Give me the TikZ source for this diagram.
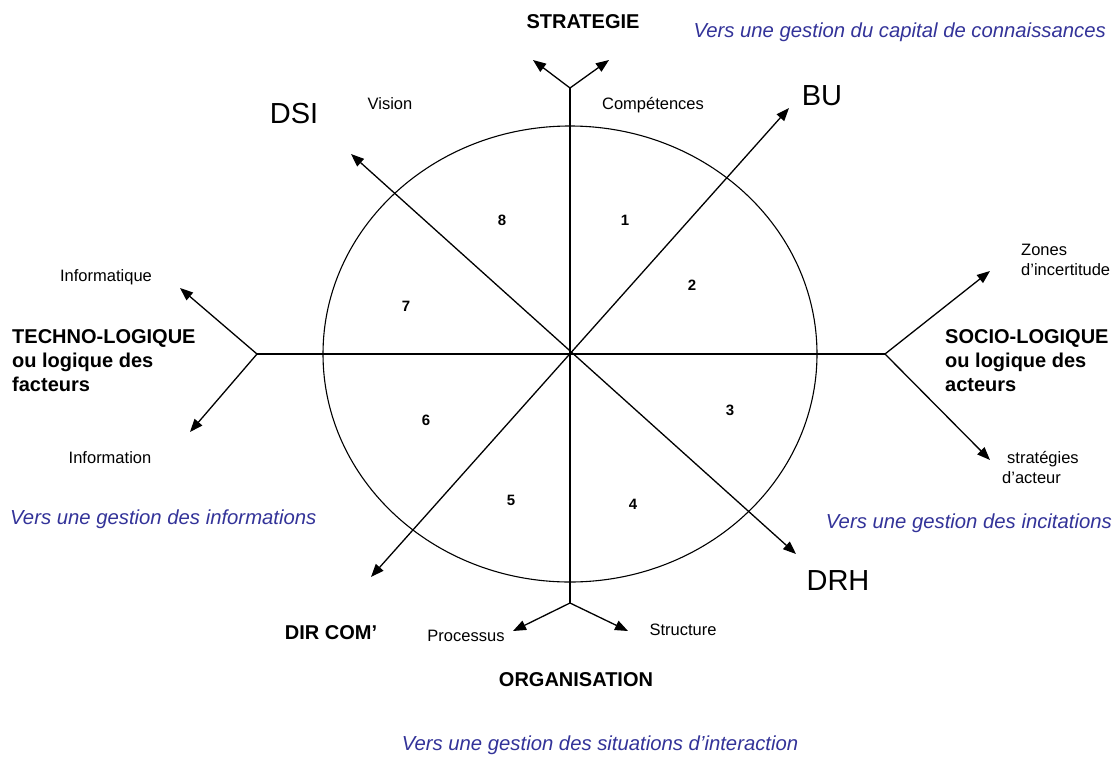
\documentclass[tikz,border=0pt]{standalone}
\usepackage{fontspec}
\setmainfont{Liberation Sans}
\usetikzlibrary{arrows.meta}
\definecolor{vblue}{RGB}{51,51,153}
\begin{document}
\begin{tikzpicture}[x=1pt,y=-1pt,
  axis/.style={line width=1.3pt,black},
  arr/.style={line width=1.3pt,-{Triangle[length=13pt,width=10pt]}},
  darr/.style={line width=1.3pt,{Triangle[length=13pt,width=10pt]}-{Triangle[length=13pt,width=10pt]}},
  small/.style={inner sep=0pt,font=\fontsize{16.5}{20}\selectfont},
  big/.style={inner sep=0pt,font=\fontsize{29}{34}\selectfont},
  bold/.style={inner sep=0pt,font=\fontsize{20}{24}\selectfont\bfseries,align=left},
  num/.style={inner sep=0pt,font=\fontsize{15}{18}\selectfont\bfseries},
  vers/.style={inner sep=0pt,text=vblue,font=\fontsize{20.3}{24}\selectfont\itshape}]
\useasboundingbox (0,0) rectangle (1119,758);
\fill[white] (0,0) rectangle (1119,758);
% geometry
\coordinate (O) at (570,354);
\coordinate (T) at (570,88);
\coordinate (B) at (570,603);
\coordinate (L) at (257,354);
\coordinate (R) at (885,354);
\coordinate (Ta) at (533,60);
\coordinate (Tb) at (609,60);
\coordinate (Ba) at (513,631);
\coordinate (Bb) at (628,631);
\coordinate (La) at (180,288);
\coordinate (Lb) at (190,432);
\coordinate (Ra) at (990,271);
\coordinate (Rb) at (990,460);
\coordinate (BUe) at (789,108);
\coordinate (DSIe) at (351,154);
\coordinate (DRHe) at (796,554);
\coordinate (DCe) at (371,577);
% circle
\draw[line width=1.1pt] (O) ellipse [x radius=247, y radius=228];
% axes
\draw[axis] (T) -- (B);
\draw[axis] (L) -- (R);
\draw[darr] (DSIe) -- (DRHe);
\draw[darr] (BUe) -- (DCe);
% forks
\draw[arr] (T) -- (Ta);
\draw[arr] (T) -- (Tb);
\draw[arr] (B) -- (Ba);
\draw[arr] (B) -- (Bb);
\draw[arr] (L) -- (La);
\draw[arr] (L) -- (Lb);
\draw[arr] (R) -- (Ra);
\draw[arr] (R) -- (Rb);
% labels
\node[bold] (strat) at (583,22) {STRATEGIE};
\node[vers,anchor=east] (v1) at (1106,32) {Vers une gestion du capital de connaissances};
\node[big] (dsi) at (294,114) {DSI};
\node[small] (vision) at (390,104) {Vision};
\node[small] (comp) at (653,105) {Compétences};
\node[big] (bu) at (822,96) {BU};
\node[small,anchor=west,align=left] (zones) at (1021,260) {Zones\\d’incertitude};
\node[bold,anchor=west] (socio) at (945,361) {SOCIO-LOGIQUE\\ou logique des\\acteurs};
\node[small,anchor=west,align=left] (strats) at (1002,467) {\hspace{5pt}stratégies\\d’acteur};
\node[small] (informatique) at (106,277) {Informatique};
\node[bold,anchor=west] (techno) at (12,361) {TECHNO-LOGIQUE\\ou logique des\\facteurs};
\node[small] (information) at (110,458) {Information};
\node[vers,anchor=west] (v2) at (10,519) {Vers une gestion des informations};
\node[vers,anchor=east] (v3) at (1112,523) {Vers une gestion des incitations};
\node[big] (drh) at (838,581) {DRH};
\node[bold] (dircom) at (331,633) {DIR COM’};
\node[small] (proc) at (466,636) {Processus};
\node[small] (struct) at (683,630) {Structure};
\node[bold] (orga) at (576,680) {ORGANISATION};
\node[vers] (v4) at (600,745) {Vers une gestion des situations d’interaction};
% sector numbers
\node[num] (n1) at (625,220) {1};
\node[num] (n2) at (692,285) {2};
\node[num] (n3) at (730,410) {3};
\node[num] (n4) at (633,504) {4};
\node[num] (n5) at (511,500) {5};
\node[num] (n6) at (426,420) {6};
\node[num] (n7) at (406,306) {7};
\node[num] (n8) at (502,220) {8};
\end{tikzpicture}
\end{document}
